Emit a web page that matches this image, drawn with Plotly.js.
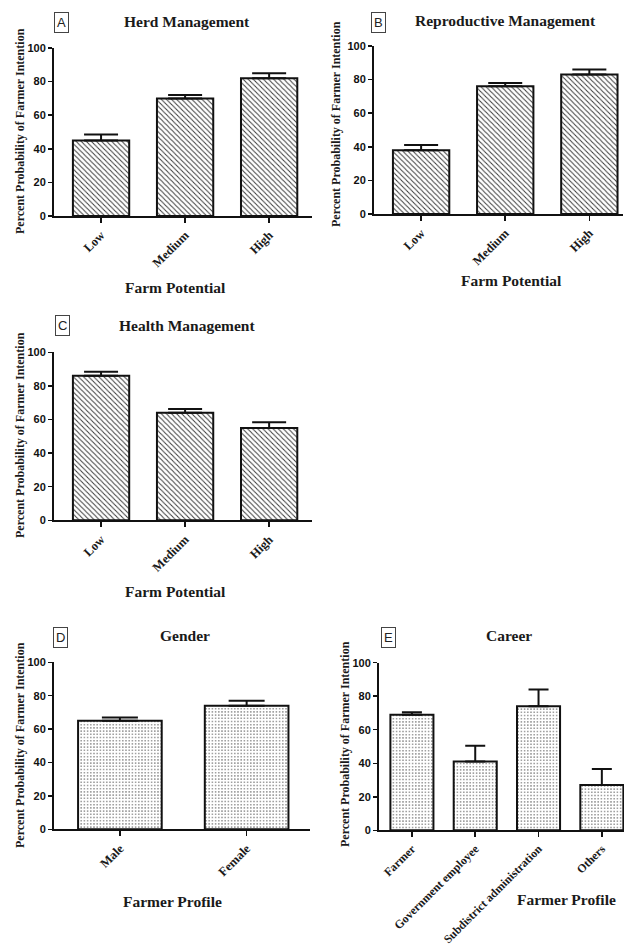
<!DOCTYPE html>
<html>
<head>
<meta charset="utf-8">
<script src="https://cdn.plot.ly/plotly-3.0.1.min.js"></script>
<style>
  html, body { margin: 0; padding: 0; background: #ffffff; }
  #chart { width: 624px; height: 945px; }
</style>
</head>
<body>
<div id="chart"></div>
<script>
// ---------- DATA ----------
const farmPotential = ["Low", "Medium", "High"];
const herdMean = [45, 70, 82];
const herdErr = [3.5, 2, 3];
const reproMean = [38, 76, 83];
const reproErr = [3, 2, 3];
const healthMean = [86, 64, 55];
const healthErr = [2.4, 2.2, 3.3];
const genderCats = ["Male", "Female"];
const genderMean = [65, 74];
const genderErr = [2, 3];
const careerCats = ["Farmer", "Government employee", "Subdistrict administration", "Others"];
const careerMean = [69, 41, 74, 27];
const careerErr = [1.5, 9.5, 10, 9.6];

const panelLetters = ["A", "B", "C", "D", "E"];
const panelTitles = ["Herd Management", "Reproductive Management", "Health Management", "Gender", "Career"];
const xTitles = ["Farm Potential", "Farm Potential", "Farm Potential", "Farmer Profile", "Farmer Profile"];
const yTitle = "Percent Probability of Farmer Intention";
const yTickVals = [0, 20, 40, 60, 80, 100];

// ---------- LAYOUT HELPERS ----------
const W = 624, H = 945;
const px = x => x / W;
const py = y => 1 - y / H;

const SERIF = "Liberation Serif";
const SANS = "Liberation Sans";

const hatch = {shape: "\\", fgcolor: "#3a3a3a", bgcolor: "#ffffff", size: 3.6, solidity: 0.28};
const dots = {shape: ".", fgcolor: "#8a8a8a", bgcolor: "#ffffff", size: 3.2, solidity: 0.22};

function barTrace(cats, vals, errs, n, pattern, capHalf, width) {
  return {
    type: "bar",
    x: cats, y: vals,
    xaxis: "x" + (n === 1 ? "" : n), yaxis: "y" + (n === 1 ? "" : n),
    width: width,
    marker: {color: "#ffffff", pattern: pattern, line: {color: "#111111", width: 2}},
    error_y: {type: "data", symmetric: false, array: errs, arrayminus: errs.map(() => 0),
              color: "#111111", thickness: 2, width: capHalf},
    showlegend: false, hoverinfo: "skip"
  };
}

const data = [
  barTrace(farmPotential, herdMean, herdErr, 1, hatch, 17, 0.67),
  barTrace(farmPotential, reproMean, reproErr, 2, hatch, 17, 0.67),
  barTrace(farmPotential, healthMean, healthErr, 3, hatch, 17, 0.67),
  barTrace(genderCats, genderMean, genderErr, 4, dots, 18, 0.66),
  barTrace(careerCats, careerMean, careerErr, 5, dots, 10, 0.68)
];

// pixel geometry of each panel: [xLeft, xRight, yZero, yHundred, xRange, tickFontSize]
const geo = [
  [54, 312, 216, 48, [-0.56, 2.51], 12.5],
  [374, 623, 214, 46, [-0.56, 2.4], 12.5],
  [54, 312, 520.3, 352.3, [-0.56, 2.51], 12.5],
  [54, 310, 829.3, 662.3, [-0.52, 1.5], 12.5],
  [379, 624, 830.3, 662.7, [-0.52, 3.35], 11.8]
];

const layout = {
  width: W, height: H,
  margin: {l: 0, r: 0, t: 0, b: 0},
  paper_bgcolor: "#ffffff", plot_bgcolor: "rgba(0,0,0,0)",
  bargap: 0.33,
  annotations: [],
  showlegend: false
};

geo.forEach((g, i) => {
  const sfx = i === 0 ? "" : String(i + 1);
  layout["xaxis" + sfx] = {
    domain: [px(g[0]), px(g[1])],
    anchor: "y" + sfx,
    range: g[4],
    type: "category",
    showline: true, linecolor: "#111111", linewidth: 2,
    ticks: "outside", ticklen: 5, tickwidth: 1.5, tickcolor: "#111111",
    tickangle: -45,
    tickfont: {family: SERIF, size: g[5], color: "#1a1a1a", weight: "bold"},
    showgrid: false, zeroline: false, fixedrange: true
  };
  layout["yaxis" + sfx] = {
    domain: [py(g[2]), py(g[3])],
    anchor: "x" + sfx,
    range: [0, 100],
    tickvals: yTickVals,
    showline: true, linecolor: "#111111", linewidth: 2,
    ticks: "outside", ticklen: 4, tickwidth: 1.5, tickcolor: "#111111",
    tickfont: {family: SANS, size: 11, color: "#111111", weight: "bold"},
    showgrid: false, zeroline: false, fixedrange: true
  };
});

// text placements (pixel centers)
const letterPos = [[61.5, 22.5], [378, 23], [62.5, 326], [60.5, 637.5], [388, 637.5]];
const titlePos = [[187, 22], [505, 20], [187, 325], [185, 635], [509, 635]];
const xTitlePos = [[175.5, 287], [511.5, 280], [175, 591.5], [172, 901], [566, 899]];
const yTitlePos = [[20, 131], [336, 124], [20, 435], [20, 745], [345, 744]];

panelLetters.forEach((L, i) => {
  layout.annotations.push({
    xref: "paper", yref: "paper", x: px(letterPos[i][0]), y: py(letterPos[i][1]),
    text: L, showarrow: false, xanchor: "center", yanchor: "middle",
    font: {family: SANS, size: 13, color: "#222222"},
    bordercolor: "#444444", borderwidth: 1, borderpad: 2, bgcolor: "#ffffff"
  });
  layout.annotations.push({
    xref: "paper", yref: "paper", x: px(titlePos[i][0]), y: py(titlePos[i][1]),
    text: panelTitles[i], showarrow: false, xanchor: "center", yanchor: "middle",
    font: {family: SERIF, size: 15.5, color: "#1a1a1a", weight: "bold"}
  });
  layout.annotations.push({
    xref: "paper", yref: "paper", x: px(xTitlePos[i][0]), y: py(xTitlePos[i][1]),
    text: xTitles[i], showarrow: false, xanchor: "center", yanchor: "middle",
    font: {family: SERIF, size: 15.5, color: "#1a1a1a", weight: "bold"}
  });
  layout.annotations.push({
    xref: "paper", yref: "paper", x: px(yTitlePos[i][0]), y: py(yTitlePos[i][1]),
    text: yTitle, showarrow: false, xanchor: "center", yanchor: "middle", textangle: -90,
    font: {family: SERIF, size: 12, color: "#1a1a1a", weight: "bold"}
  });
});

Plotly.newPlot("chart", data, layout, {staticPlot: true, displayModeBar: false});
</script>
</body>
</html>
